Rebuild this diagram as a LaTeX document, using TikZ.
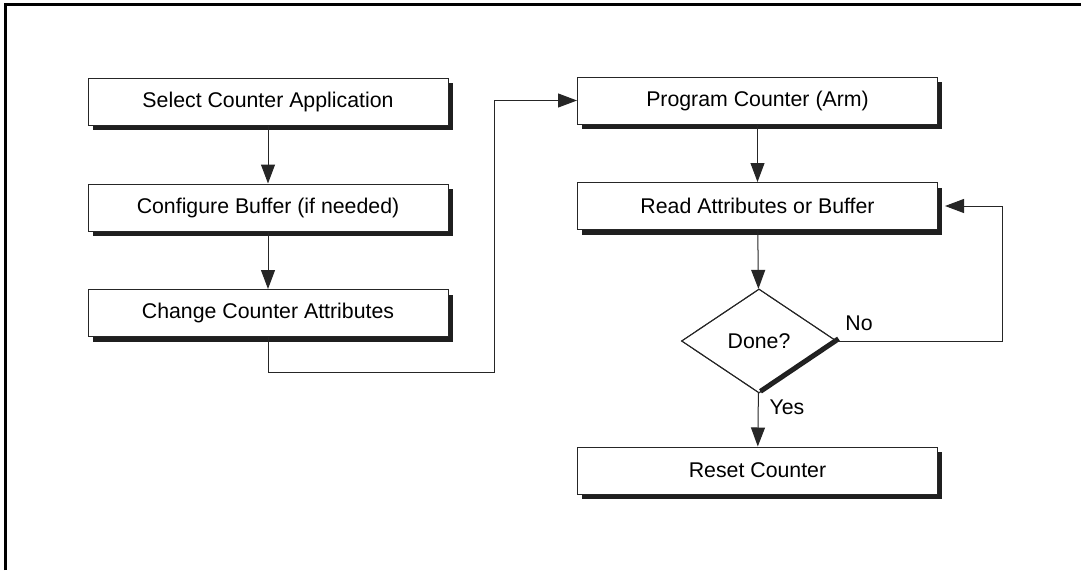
\documentclass[tikz,border=0pt]{standalone}
\usepackage{fontspec}
\setmainfont{Liberation Sans}
\usetikzlibrary{arrows.meta,shapes.geometric,shadows}
\begin{document}
\begin{tikzpicture}[x=1pt,y=-1pt,
  every node/.style={font=\fontsize{21.3}{25}\selectfont},
  stepbox/.style={draw=black!85, line width=1pt, fill=white, minimum width=360pt, minimum height=47pt, inner sep=0pt,
    drop shadow={shadow xshift=4.5pt, shadow yshift=-5pt, opacity=1, fill=black!88}},
  decision/.style={draw=black!85, line width=1pt, fill=white, diamond, minimum width=155pt, minimum height=104pt, inner sep=0pt},
  conn/.style={draw=black!85, line width=1pt},
  arr/.style={conn, -{Triangle[length=19pt,width=14pt]}},
  lbl/.style={inner sep=0pt}
]
\useasboundingbox (0,0) rectangle (1081,570);
\draw[line width=3pt] (5,570) -- (5,4) -- (1081,4);

\node[stepbox] (s1) at (268,101.5) {Select Counter Application};
\node[stepbox] (s2) at (268,207.5) {Configure Buffer (if needed)};
\node[stepbox] (s3) at (268,313) {Change Counter Attributes};
\node[stepbox] (p)  at (757.5,100.5) {Program Counter (Arm)};
\node[stepbox] (r)  at (757.5,206) {Read Attributes or Buffer};
\node[decision] (d) at (759,341) {Done?};
\node[stepbox] (z)  at (757.5,470.5) {Reset Counter};

\draw[line width=5pt, black!88, line cap=butt] ([shift={(1.5,-2.2)}]d.east) -- ([shift={(1.5,-2.2)}]d.south);
\node[decision, fill=none] at (759,341) {\phantom{Done?}};

\coordinate (c1) at (494,372);
\coordinate (c2) at (1002,341);

\draw[arr] (s1) -- (s2);
\draw[arr] (s2) -- (s3);
\draw[arr] (s3.south) |- (c1) |- (p.west);
\draw[arr] (p) -- (r);
\draw[arr] (r) -- (d);
\draw[arr] (d) -- (z);
\draw[arr] (d.east) -- (c2) |- ([xshift=7pt]r.east);

\node[lbl] (no) at (859,323) {No};
\node[lbl] (yes) at (787,407) {Yes};
\end{tikzpicture}
\end{document}
